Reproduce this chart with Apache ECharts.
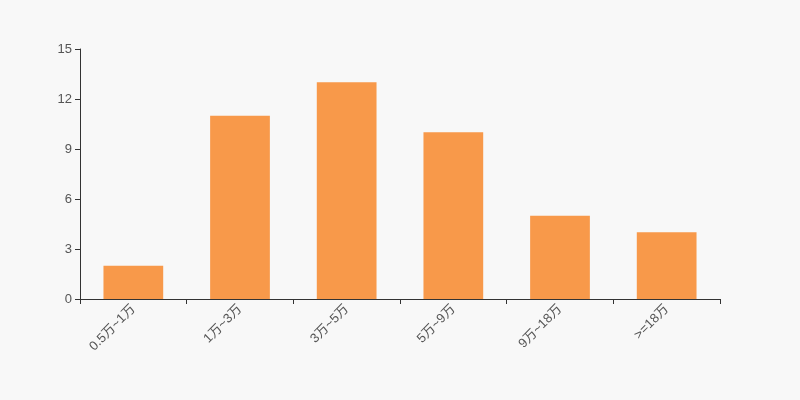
<!DOCTYPE html>
<html><head><meta charset="utf-8">
<script src="https://cdn.jsdelivr.net/npm/echarts@6/dist/echarts.min.js"></script>
<style>html,body{margin:0;padding:0;background:#f8f8f8;}#c{width:800px;height:400px;}</style>
</head><body><div id="c"></div>
<script>
var categories = ['0.5万~1万','1万~3万','3万~5万','5万~9万','9万~18万','>=18万'];
var values = [2, 11, 13, 10, 5, 4];
var yTicks = {min: 0, max: 15, interval: 3};
var chart = echarts.init(document.getElementById('c'));
chart.setOption({
  backgroundColor: '#f8f8f8',
  animation: false,
  grid: {left: 80, right: 80, top: 49, bottom: 101},
  xAxis: {
    type: 'category', data: categories,
    axisLine: {show: true, lineStyle: {color: '#333'}},
    axisTick: {show: true, alignWithLabel: false, interval: 0, length: 5, lineStyle: {color: '#333'}},
    axisLabel: {rotate: 45, interval: 0, color: '#555', fontSize: 13, fontFamily: 'Liberation Sans, Noto Sans CJK SC, sans-serif'}
  },
  yAxis: {
    type: 'value', min: yTicks.min, max: yTicks.max, interval: yTicks.interval,
    axisLine: {show: true, lineStyle: {color: '#333'}},
    axisTick: {show: true, length: 5, lineStyle: {color: '#333'}},
    splitLine: {show: false},
    axisLabel: {color: '#555', fontSize: 13, fontFamily: 'Liberation Sans, sans-serif'}
  },
  series: [{
    type: 'bar', data: values, barWidth: '56%',
    itemStyle: {color: '#F8994A'}
  }]
});
</script></body></html>
